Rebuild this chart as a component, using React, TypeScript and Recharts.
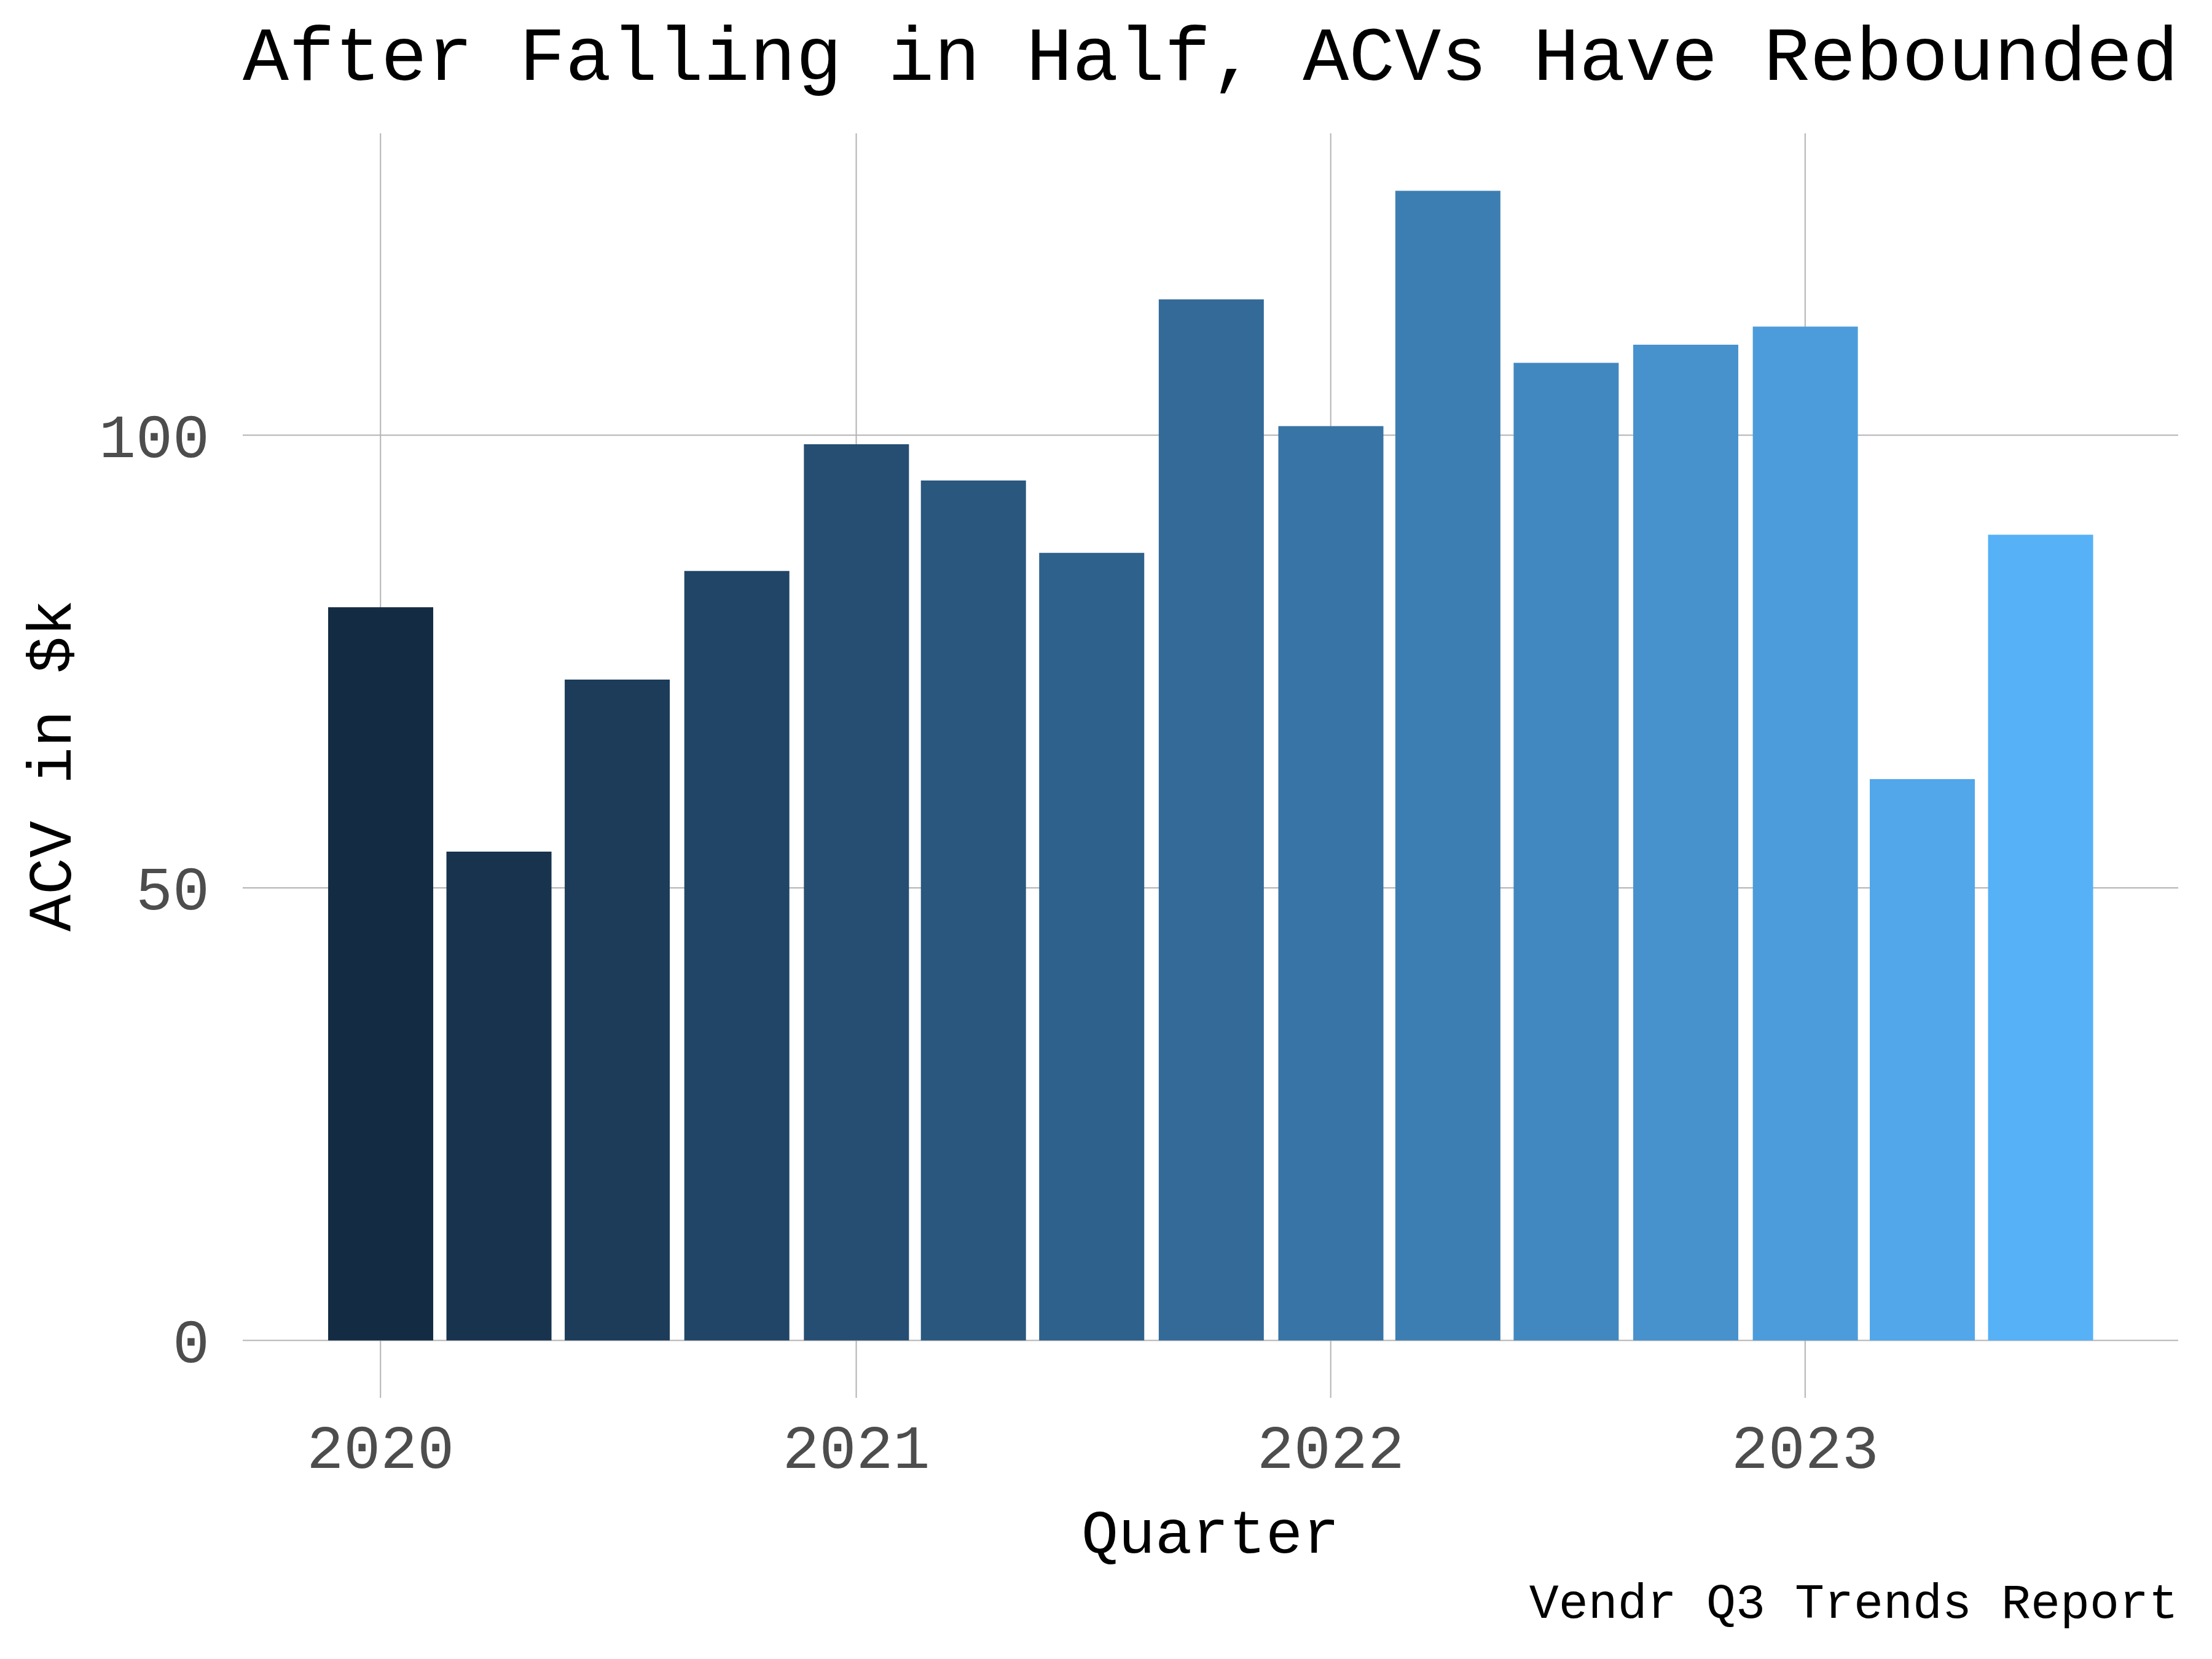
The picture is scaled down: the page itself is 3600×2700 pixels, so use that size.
import React from "react";
import { Bar, BarChart, CartesianGrid, Cell, XAxis, YAxis } from "recharts";

// ACV per quarter, in $k
const quarters = [
  "2020-01-01", "2020-04-01", "2020-07-01", "2020-10-01",
  "2021-01-01", "2021-04-01", "2021-07-01", "2021-10-01",
  "2022-01-01", "2022-04-01", "2022-07-01", "2022-10-01",
  "2023-01-01", "2023-04-01", "2023-07-01",
];
const acv = [81, 54, 73, 85, 99, 95, 87, 115, 101, 127, 108, 110, 112, 62, 89];

const yearTicks = ["2020-01-01", "2021-01-01", "2022-01-01", "2023-01-01"];
const yearLabels = ["2020", "2021", "2022", "2023"];
const acvTicks = [0, 50, 100];

const W = 3600;
const H = 2700;
const FONT = "'Liberation Mono', 'DejaVu Sans Mono', monospace";
const DAY = 86400000;
const PAD_DAYS = 106;

// ggplot's default continuous fill: #132B43 -> #56B1F7, blended in Lab
function hexToLab(hex: string) {
  const c = [1, 3, 5].map((i) => parseInt(hex.slice(i, i + 2), 16) / 255);
  const lin = c.map((v) => (v <= 0.04045 ? v / 12.92 : Math.pow((v + 0.055) / 1.055, 2.4)));
  const x = (lin[0] * 0.4124 + lin[1] * 0.3576 + lin[2] * 0.1805) / 0.95047;
  const y = lin[0] * 0.2126 + lin[1] * 0.7152 + lin[2] * 0.0722;
  const z = (lin[0] * 0.0193 + lin[1] * 0.1192 + lin[2] * 0.9505) / 1.08883;
  const f = (t: number) => (t > 0.008856 ? Math.cbrt(t) : 7.787 * t + 16 / 116);
  return [116 * f(y) - 16, 500 * (f(x) - f(y)), 200 * (f(y) - f(z))];
}

function labToHex([L, a, b]: number[]) {
  const fy = (L + 16) / 116;
  const fx = fy + a / 500;
  const fz = fy - b / 200;
  const inv = (t: number) => (t ** 3 > 0.008856 ? t ** 3 : (t - 16 / 116) / 7.787);
  const x = inv(fx) * 0.95047;
  const y = inv(fy);
  const z = inv(fz) * 1.08883;
  const lin = [
    x * 3.2406 - y * 1.5372 - z * 0.4986,
    -x * 0.9689 + y * 1.8758 + z * 0.0415,
    x * 0.0557 - y * 0.204 + z * 1.057,
  ];
  return (
    "#" +
    lin
      .map((v) => {
        const s = v <= 0.0031308 ? 12.92 * v : 1.055 * Math.pow(v, 1 / 2.4) - 0.055;
        const n = Math.round(Math.min(1, Math.max(0, s)) * 255);
        return n.toString(16).padStart(2, "0");
      })
      .join("")
  );
}

const low = hexToLab("#132B43");
const high = hexToLab("#56B1F7");

const data = quarters.map((q, i) => ({ date: Date.parse(q), acv: acv[i] }));
const tMin = data[0].date;
const tMax = data[data.length - 1].date;
const fills = data.map((d) => {
  const t = (d.date - tMin) / (tMax - tMin);
  return labToHex(low.map((v, k) => v + (high[k] - v) * t));
});

const xDomain = [tMin - PAD_DAYS * DAY, tMax + PAD_DAYS * DAY];
const xTicks = yearTicks.map((d) => Date.parse(d));

export default function App() {
  return (
    <div
      style={{
        position: "absolute",
        left: 0,
        top: 0,
        width: W,
        height: H,
        background: "#ffffff",
      }}
    >
      <BarChart
        width={W}
        height={H}
        data={data}
        margin={{ top: 217, right: 55, bottom: 0, left: 0 }}
      >
        <CartesianGrid
          stroke="#b3b3b3"
          strokeWidth={2}
          syncWithTicks
          horizontalValues={acvTicks}
          verticalValues={xTicks}
        />
        <XAxis
          dataKey="date"
          type="number"
          domain={xDomain}
          ticks={xTicks}
          tickFormatter={(_v: number, i: number) => yearLabels[i]}
          height={425}
          axisLine={false}
          tickLine={false}
          tickSize={0}
          tickMargin={43}
          tick={{ fontSize: 100, fill: "#4d4d4d", fontFamily: FONT }}
        />
        <YAxis
          type="number"
          domain={[-6.35, 133.35]}
          ticks={acvTicks}
          width={395}
          axisLine={false}
          tickLine={false}
          tickSize={0}
          tickMargin={54}
          tick={{ fontSize: 100, fill: "#4d4d4d", fontFamily: FONT }}
        />
        <Bar dataKey="acv" barSize={171} isAnimationActive={false}>
          {data.map((d, i) => (
            <Cell key={d.date} fill={fills[i]} />
          ))}
        </Bar>
      </BarChart>
      <svg
        width={W}
        height={H}
        style={{ position: "absolute", left: 0, top: 0, pointerEvents: "none" }}
        fontFamily={FONT}
      >
        <text x={395} y={130} fontSize={125} fill="#000000">
          After Falling in Half, ACVs Have Rebounded
        </text>
        <text
          x={115}
          y={1246}
          fontSize={100}
          fill="#000000"
          textAnchor="middle"
          transform="rotate(-90, 115, 1246)"
        >
          ACV in $k
        </text>
        <text x={1970} y={2527} fontSize={100} fill="#000000" textAnchor="middle">
          Quarter
        </text>
        <text x={3545} y={2633} fontSize={80} fill="#000000" textAnchor="end">
          Vendr Q3 Trends Report
        </text>
      </svg>
    </div>
  );
}
